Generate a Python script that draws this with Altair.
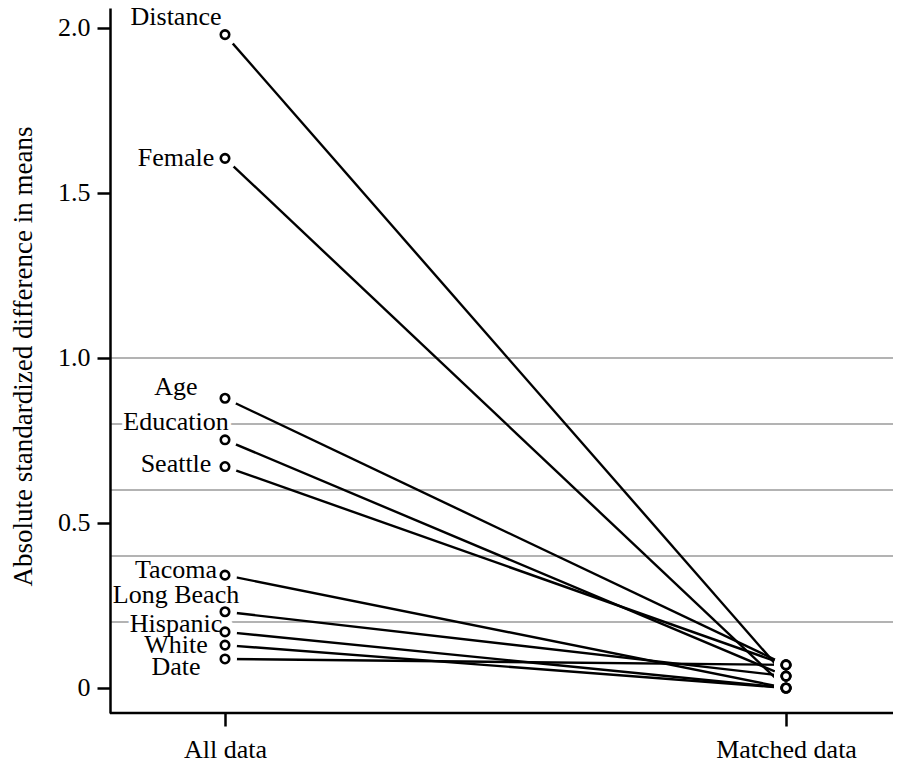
import altair as alt
import pandas as pd

# ---- data ----
variables = ["Distance", "Female", "Age", "Education", "Seattle",
             "Tacoma", "Long Beach", "Hispanic", "White", "Date"]
all_data = [1.980, 1.605, 0.878, 0.752, 0.671, 0.342, 0.231, 0.170, 0.130, 0.088]
matched_data = [0.036, 0.000, 0.070, 0.036, 0.070, 0.000, 0.036, 0.000, 0.000, 0.070]
# vertical placement (baseline, in data units) of each variable's label
label_baseline = [2.009, 1.582, 0.888, 0.782, 0.655, 0.333, 0.258, 0.170, 0.106, 0.039]
groups = ["All data", "Matched data"]
grid_values = [0.2, 0.4, 0.6, 0.8, 1.0]
y_ticks = [0, 0.5, 1.0, 1.5, 2.0]
y_title = "Absolute standardized difference in means"
y_min, y_max = -0.0758, 2.0606

FONT = "Liberation Serif"
FS = 26

rows = []
for v, a, m in zip(variables, all_data, matched_data):
    rows.append({"variable": v, "group": groups[0], "value": a})
    rows.append({"variable": v, "group": groups[1], "value": m})
long_df = pd.DataFrame(rows)
label_df = pd.DataFrame({"variable": variables, "group": groups[0], "ly": label_baseline})
grid_df = pd.DataFrame({"g": grid_values})
base_df = pd.DataFrame({"g": [y_min]})

yscale = alt.Scale(domain=[y_min, y_max], nice=False, zero=False)
xscale = alt.Scale(type="point", domain=groups, range=[115, 676], padding=0)

x_axis = alt.Axis(
    title=None, domain=False, tickColor="black",
    tickWidth=2.5, tickSize=13, labelFont=FONT, labelFontSize=FS,
    labelColor="black", labelPadding=31, labelBaseline="alphabetic",
    labelFlush=False, labelOverlap=False, grid=False, labelAngle=0, zindex=1,
)
y_axis = alt.Axis(
    values=y_ticks, labelExpr="datum.value == 0 ? '0' : format(datum.value, '.1f')",
    domainColor="black", domainWidth=2.5, tickColor="black", tickWidth=2.5,
    tickSize=13, labelFont=FONT, labelFontSize=FS, labelColor="black",
    labelPadding=7, grid=False, title=y_title, titleFont=FONT,
    titleFontSize=27, titleFontWeight="normal", titleColor="black",
    titleAngle=270, titleX=-79, titleY=348, titleAlign="center",
    titleBaseline="alphabetic", zindex=1,
)

X = alt.X("group:N", scale=xscale, axis=x_axis)
Y = alt.Y("value:Q", scale=yscale, axis=y_axis)

grid = alt.Chart(grid_df).mark_rule(color="#b3b3b3", strokeWidth=2).encode(
    y=alt.Y("g:Q", scale=yscale, axis=y_axis)
)

baseline_rule = alt.Chart(base_df).mark_rule(color="black", strokeWidth=2.5).encode(
    y=alt.Y("g:Q", scale=yscale, axis=y_axis)
)

lines = alt.Chart(long_df).mark_line(color="black", strokeWidth=2.4).encode(
    x=X, y=Y, detail="variable:N"
)

disks = alt.Chart(long_df).mark_point(
    shape="circle", filled=True, fill="white", stroke="white", opacity=1, size=484
).encode(x=X, y=Y)

halo = alt.Chart(label_df).mark_text(
    align="center", baseline="alphabetic", dx=-49, font=FONT, fontSize=FS,
    fill="white", stroke="white", strokeWidth=8, strokeJoin="round"
).encode(x=X, y=alt.Y("ly:Q", scale=yscale, axis=y_axis), text="variable:N")

labels = alt.Chart(label_df).mark_text(
    align="center", baseline="alphabetic", dx=-49, font=FONT, fontSize=FS,
    color="black"
).encode(x=X, y=alt.Y("ly:Q", scale=yscale, axis=y_axis), text="variable:N")

circles = alt.Chart(long_df).mark_point(
    shape="circle", filled=True, fill="white", stroke="black", strokeWidth=2.6,
    opacity=1, size=72
).encode(x=X, y=Y)

chart = alt.layer(grid, baseline_rule, lines, disks, halo, labels, circles).properties(
    width=783, height=705,
    padding={"left": 102, "top": 0, "right": 0, "bottom": 45},
    autosize=alt.AutoSizeParams(type="none"),
    background="white",
).configure_view(stroke=None)

chart.save("out.html", embed_options={"renderer": "svg", "actions": False})
